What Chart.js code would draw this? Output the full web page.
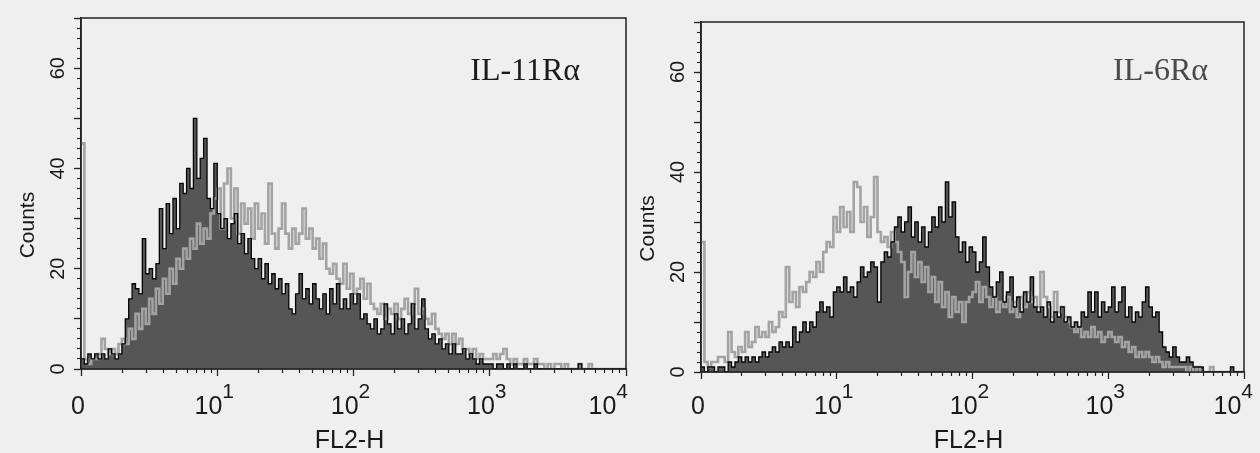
<!DOCTYPE html>
<html><head><meta charset="utf-8">
<script src="https://cdn.jsdelivr.net/npm/chart.js@4.4.1/dist/chart.umd.min.js"></script>
<style>
html,body{margin:0;padding:0;background:#efefef;}
#wrap{position:relative;width:1260px;height:453px;overflow:hidden;background:#efefef;}
canvas{position:absolute;top:0;}
#c1{left:0;} #c2{left:630px;}
</style></head><body>
<div id="wrap"><canvas id="c1" width="630" height="453"></canvas><canvas id="c2" width="630" height="453"></canvas></div>
<script>
// FL2-H channels: 160 bins, each 0.025 decade wide, from 10^0 to 10^4
const binWidthDecades = 0.025;

// Left panel (IL-11Rα) counts per bin
const leftBlack = [
 2,1,3,2,3,2,3,2,4,3,2,3,5,10,14,17,16,15,26,19,
 20,18,21,32,24,33,27,34,28,37,35,40,36,50,38,42,46,34,32,41,
 31,28,30,26,29,31,25,27,23,26,22,20,22,18,21,17,19,16,18,15,
 17,12,11,15,19,14,16,13,17,14,12,15,11,16,13,17,12,14,12,15,
 13,15,10,11,9,8,10,7,8,13,9,7,11,8,10,7,9,13,8,10,
 14,8,6,7,5,6,4,5,3,5,3,3,4,2,3,2,1,2,1,1,
 1,0,1,1,0,1,0,1,0,0,1,0,0,1,0,0,0,0,0,0,
 0,0,0,0,0,0,1,0,0,0,0,0,0,0,0,0,0,0,0,0
];
const leftGrey = [
 45,2,1,2,2,3,6,4,3,4,3,5,6,5,8,6,11,8,12,9,
 14,11,16,13,18,15,20,17,22,20,24,22,26,24,29,25,28,26,31,34,
 36,28,37,40,30,36,27,33,29,32,26,33,28,31,25,37,27,24,28,33,
 27,24,28,25,27,32,26,28,24,26,22,25,20,19,21,18,17,21,16,19,
 15,16,18,14,17,13,12,11,13,10,12,11,13,10,12,14,11,13,16,11,
 12,10,9,11,8,7,6,7,5,7,5,6,4,4,3,4,2,3,2,2,
 2,3,2,3,4,2,1,2,1,1,2,1,1,2,1,1,0,1,0,1,
 1,0,1,0,0,0,1,0,0,1,0,0,0,0,0,0,0,0,0,0
];
// Right panel (IL-6Rα) counts per bin
const rightBlack = [
 1,0,1,1,0,1,1,0,2,1,2,3,2,3,2,3,2,3,4,3,
 4,5,4,6,5,6,5,9,6,8,10,8,10,9,12,14,12,13,11,16,
 17,16,19,16,17,15,18,21,19,20,22,21,14,22,24,23,26,29,31,28,
 30,33,27,30,26,29,25,28,31,29,33,30,38,31,34,27,24,26,22,25,
 24,20,22,27,21,17,15,18,20,14,16,19,13,15,12,16,14,19,13,12,
 13,11,14,10,12,11,13,10,11,9,10,9,12,11,16,12,16,11,14,12,
 13,17,12,14,17,11,13,10,12,11,14,17,13,11,12,8,5,4,3,5,
 3,2,2,3,2,1,1,1,0,0,0,0,0,0,0,0,1,0,0,0
];
const rightGrey = [
 26,2,1,2,2,3,3,2,8,4,3,5,4,8,5,6,9,7,8,7,
 10,8,9,12,11,21,14,16,13,17,16,18,20,19,22,20,24,26,25,31,
 28,33,29,32,28,38,37,30,33,27,31,39,28,26,27,25,28,26,24,22,
 15,20,24,19,22,18,21,16,19,14,18,13,16,11,15,12,14,10,14,15,
 16,18,14,17,15,13,15,12,14,13,15,12,14,11,15,13,16,14,15,13,
 20,15,13,11,16,12,13,11,10,9,8,9,7,8,7,9,7,8,6,7,
 8,7,6,7,5,6,4,5,3,4,3,4,3,2,3,2,1,2,1,1,
 1,1,1,0,1,0,1,0,0,0,1,0,0,0,0,0,0,0,0,0
];

const xTickValues = [1, 10, 100, 1000, 10000];
const xTickBase = ['0', '10', '10', '10', '10'];
const xTickExp = ['', '1', '2', '3', '4'];
const yTickValues = [0, 20, 40, 60];
const panelTitles = ['IL-11R\u03b1', 'IL-6R\u03b1'];
const xAxisTitle = 'FL2-H';
const yAxisTitle = 'Counts';

function toPoints(counts) {
  const pts = counts.map((v, i) => ({x: Math.pow(10, i * binWidthDecades), y: v}));
  pts.push({x: 10000, y: counts[counts.length - 1]});
  return pts;
}
function minorLogTicks() {
  const t = [];
  for (let n = 0; n < 4; n++) for (let k = 2; k <= 9; k++) t.push({value: k * Math.pow(10, n)});
  return t;
}

const SANS = '"Liberation Sans", Arial, Helvetica, sans-serif';
const SERIF = '"Liberation Serif", "Times New Roman", serif';

const textPlugin = {
  id: 'panelText',
  afterDraw(chart, args, o) {
    const {ctx, chartArea: a, scales} = chart;
    ctx.save();
    ctx.strokeStyle = '#222'; ctx.lineWidth = 1.5;
    ctx.strokeRect(a.left, a.top, a.right - a.left, a.bottom - a.top);
    ctx.fillStyle = '#1a1a1a';
    // y tick labels (rotated)
    ctx.font = '20px ' + SANS;
    ctx.textAlign = 'center'; ctx.textBaseline = 'middle';
    yTickValues.forEach(v => {
      const y = scales.y.getPixelForValue(v);
      ctx.save(); ctx.translate(a.left - 23, y); ctx.rotate(-Math.PI / 2);
      ctx.fillText(String(v), 0, 0); ctx.restore();
    });
    // y axis title
    ctx.font = '21px ' + SANS;
    ctx.save(); ctx.translate(a.left - 53, a.top + 0.59 * (a.bottom - a.top)); ctx.rotate(-Math.PI / 2);
    ctx.fillText(yAxisTitle, 0, 0); ctx.restore();
    // x tick labels with exponents
    ctx.textAlign = 'left'; ctx.textBaseline = 'alphabetic';
    xTickValues.forEach((v, i) => {
      const x = scales.x.getPixelForValue(v);
      ctx.font = '25px ' + SANS; const w1 = ctx.measureText(xTickBase[i]).width;
      ctx.font = '21px ' + SANS; const w2 = xTickExp[i] ? ctx.measureText(xTickExp[i]).width : 0;
      let left = x - 3 - (w1 + w2) / 2;
      if (i === xTickValues.length - 1) left = x + o.lastShift - (w1 + w2);
      ctx.font = '25px ' + SANS; ctx.fillText(xTickBase[i], left, 414);
      if (w2) { ctx.font = '21px ' + SANS; ctx.fillText(xTickExp[i], left + w1, 398); }
    });
    // x axis title
    ctx.font = '25px ' + SANS; ctx.textAlign = 'center';
    ctx.fillText(xAxisTitle, (a.left + a.right) / 2 - 4, 448);
    // panel title
    ctx.font = '32px ' + SERIF; ctx.textAlign = 'right'; ctx.fillStyle = o.titleColor;
    ctx.fillText(o.title, a.right - o.titleInset, 80);
    ctx.restore();
  }
};

function makeChart(id, black, grey, p) {
  new Chart(document.getElementById(id), {
    type: 'line',
    data: {
      datasets: [
        {data: toPoints(black), stepped: 'before', fill: false, borderColor: '#050505', borderWidth: 1.3, pointRadius: 0},
        {data: toPoints(grey), stepped: 'before', fill: false, borderColor: '#a3a3a3', borderWidth: 2.6, pointRadius: 0},
        {data: toPoints(black), stepped: 'before', fill: 'origin', backgroundColor: '#565656', borderWidth: 0, borderColor: 'rgba(0,0,0,0)', pointRadius: 0}
      ]
    },
    options: {
      responsive: false, animation: false, devicePixelRatio: 1,
      layout: {padding: {left: 0, top: p.top, right: p.right, bottom: 0}},
      plugins: {legend: {display: false}, tooltip: {enabled: false}, title: {display: false},
        panelText: {title: p.title, titleColor: p.titleColor, titleInset: p.titleInset, lastShift: p.lastShift}},
      scales: {
        x: {type: 'logarithmic', position: 'bottom', min: 1, max: 10000, weight: 1,
          afterBuildTicks: s => { s.ticks = xTickValues.map(v => ({value: v})); },
          afterFit: s => { s.height = p.xHeight; },
          ticks: {display: false},
          grid: {drawOnChartArea: false, drawTicks: true, tickLength: 7, tickColor: '#222', tickWidth: 1.3},
          border: {display: true, color: '#222', width: 1.5}},
        x2: {type: 'logarithmic', position: 'bottom', min: 1, max: 10000, weight: 0,
          afterBuildTicks: s => { s.ticks = minorLogTicks(); },
          afterFit: s => { s.height = 0; },
          ticks: {display: false},
          grid: {drawOnChartArea: false, drawTicks: true, tickLength: 4, tickColor: '#222', tickWidth: 1.2},
          border: {display: false}},
        y: {type: 'linear', position: 'left', min: 0, max: 70, weight: 1,
          ticks: {display: false, stepSize: 10},
          afterFit: s => { s.width = p.yWidth; },
          grid: {drawOnChartArea: false, drawTicks: true, tickLength: 7, tickColor: '#222', tickWidth: 1.3},
          border: {display: true, color: '#222', width: 1.5}},
        y2: {type: 'linear', position: 'left', min: 0, max: 70, weight: 0,
          ticks: {display: false, stepSize: 2},
          afterFit: s => { s.width = 0; },
          grid: {drawOnChartArea: false, drawTicks: true, tickLength: 4, tickColor: '#222', tickWidth: 1.1},
          border: {display: false}}
      }
    },
    plugins: [textPlugin]
  });
}

makeChart('c1', leftBlack, leftGrey, {top: 18, right: 4, xHeight: 84, yWidth: 81, title: panelTitles[0], titleColor: '#1a1a1a', titleInset: 46, lastShift: 2});
makeChart('c2', rightBlack, rightGrey, {top: 22, right: 16, xHeight: 81, yWidth: 71, title: panelTitles[1], titleColor: '#4a4a4a', titleInset: 36, lastShift: 9});
</script>
</body></html>
